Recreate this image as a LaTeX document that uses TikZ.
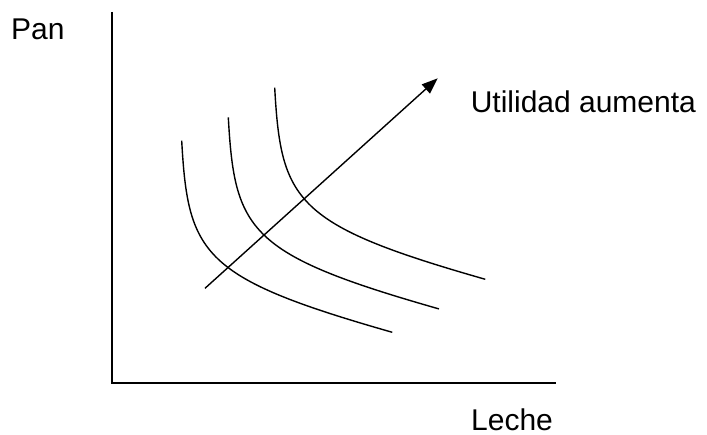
\documentclass[tikz,border=0pt]{standalone}
\usepackage{fontspec}
\setmainfont{Liberation Sans}
\usetikzlibrary{arrows.meta}
\begin{document}
\begin{tikzpicture}[x=1pt,y=-1pt,
  lbl/.style={anchor=base west,inner sep=0pt,font=\fontsize{30}{36}\selectfont},
  axisline/.style={line width=1.5pt},
  curveline/.style={line width=1.4pt},
  arrowline/.style={line width=1.4pt,-{Triangle[length=16pt,width=12pt]}}]
\useasboundingbox (0,0) rectangle (707,435);
% axes
\coordinate (Ytop) at (112,12);
\coordinate (O) at (112,383);
\coordinate (Xend) at (556,383);
\draw[axisline] (Ytop) -- (O) -- (Xend);
% indifference curves
\coordinate (S1) at (181.7,140.7);
\coordinate (P1) at (188,255);
\coordinate (Q1) at (202,278);
\coordinate (E1) at (392.3,332.3);
\coordinate (S2) at (228.3,117.3);
\coordinate (P2) at (234.6,231.6);
\coordinate (Q2) at (248.6,254.6);
\coordinate (E2) at (438.9,308.9);
\coordinate (S3) at (274.7,87.7);
\coordinate (P3) at (281,202);
\coordinate (Q3) at (295,225);
\coordinate (E3) at (485.3,279.3);
\draw[curveline] (S1) .. controls (P1) and (Q1) .. (E1);
\draw[curveline] (S2) .. controls (P2) and (Q2) .. (E2);
\draw[curveline] (S3) .. controls (P3) and (Q3) .. (E3);
% arrow
\coordinate (A0) at (205,288.3);
\coordinate (A1) at (437.7,78.3);
\draw[arrowline] (A0) -- (A1);
% labels
\node[lbl] (pan) at (11,39.5) {Pan};
\node[lbl] (util) at (470.6,112.5) {Utilidad aumenta};
\node[lbl] (leche) at (471,430.5) {Leche};
\end{tikzpicture}
\end{document}
